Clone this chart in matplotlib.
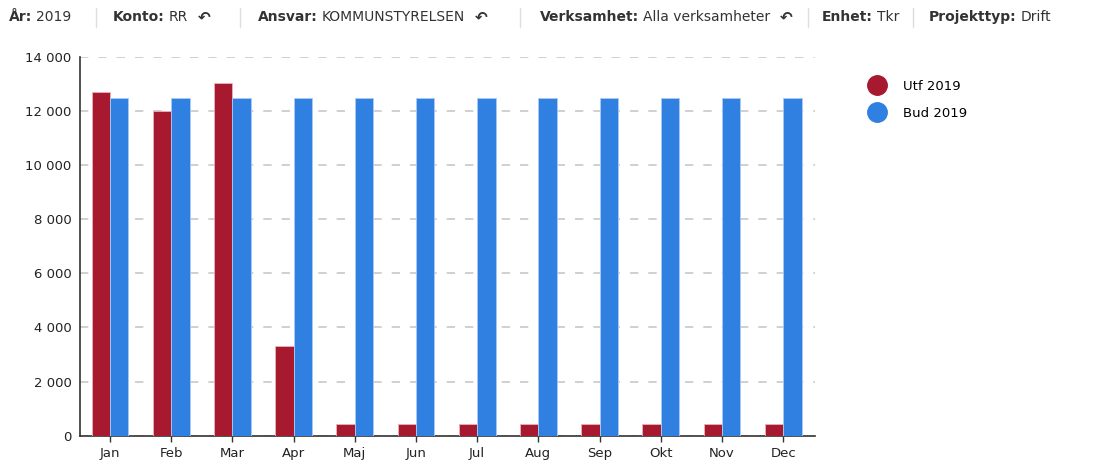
import numpy as np
import matplotlib
matplotlib.use('Agg')
import matplotlib.pyplot as plt
from matplotlib.lines import Line2D

manader = ['Jan', 'Feb', 'Mar', 'Apr', 'Maj', 'Jun', 'Jul', 'Aug', 'Sep', 'Okt', 'Nov', 'Dec']
utf_2019 = [12700, 12000, 13050, 3300, 420, 420, 420, 420, 420, 420, 420, 420]
bud_2019 = [12470] * 12

# header filter parts: (label, value, has undo icon)
filter_etiketter = ['År:', 'Konto:', 'Ansvar:', 'Verksamhet:', 'Enhet:', 'Projekttyp:']
filter_varden = ['2019', 'RR', 'KOMMUNSTYRELSEN', 'Alla verksamheter', 'Tkr', 'Drift']
filter_ikon = [False, True, True, True, False, False]

rod = '#a6192e'
bla = '#2f80e0'
textfarg = '#222222'

plt.rcParams['font.family'] = ['DejaVu Sans']

W, H = 1109, 463
fig = plt.figure(figsize=(W / 100, H / 100), dpi=100)
ax = fig.add_axes([80 / W, 1 - 435.6 / H, (815 - 80) / W, (435.6 - 57) / H])

x = np.arange(len(manader))
b = 0.30
ax.bar(x - b / 2, utf_2019, width=b, color=rod, edgecolor='#e9b3bb', linewidth=0.6, zorder=3)
ax.bar(x + b / 2, bud_2019, width=b, color=bla, edgecolor='#a8ccf5', linewidth=0.6, zorder=3)

ax.set_xlim(-0.49, 11.52)
ax.set_ylim(0, 14000)
ax.set_yticks(range(0, 14001, 2000))
ax.set_yticklabels([f'{v:,}'.replace(',', ' ') for v in range(0, 14001, 2000)])
ax.set_xticks(x)
ax.set_xticklabels(manader)
ax.yaxis.grid(True, color='#c8c8c8', linestyle=(0, (5, 6)), linewidth=1.2, zorder=0)
for s in ['top', 'right']:
    ax.spines[s].set_visible(False)
for s in ['left', 'bottom']:
    ax.spines[s].set_color('#333333')
    ax.spines[s].set_linewidth(1.2)
ax.tick_params(axis='y', length=0, pad=6, labelsize=9.5, labelcolor=textfarg)
ax.tick_params(axis='x', length=4, width=1, color='#333333', pad=4, labelsize=9.5, labelcolor=textfarg)

# legend
handles = [Line2D([], [], marker='o', linestyle='', markersize=14, color=rod, label='Utf 2019'),
           Line2D([], [], marker='o', linestyle='', markersize=14, color=bla, label='Bud 2019')]
fig.legend(handles=handles, loc='upper left', bbox_to_anchor=(852 / W, 1 - 68 / H),
           frameon=False, fontsize=9.5, handletextpad=1.0, labelspacing=1.05)

# header
etikett_x = [9, 113, 258, 540, 822, 929]
sep_x = [96, 240, 520, 808, 913]
y_head = 1 - 17 / H
fig.canvas.draw()
r = fig.canvas.get_renderer()
for lx, lab, val, ik in zip(etikett_x, filter_etiketter, filter_varden, filter_ikon):
    t = fig.text(lx / W, y_head, lab, fontsize=10, fontweight='bold', color='#333333', va='center')
    bb = t.get_window_extent(renderer=r)
    t2 = fig.text((bb.x1 + 4) / W, y_head, val, fontsize=10, color='#333333', va='center')
    bb2 = t2.get_window_extent(renderer=r)
    if ik:
        fig.text((bb2.x1 + 10) / W, y_head, '↶', fontsize=11, fontweight='bold', color='#333333', va='center')
for sx in sep_x:
    fig.add_artist(Line2D([sx / W, sx / W], [1 - 8 / H, 1 - 27 / H], color='#dddddd', linewidth=1))

fig.savefig('out.png', dpi=100)
